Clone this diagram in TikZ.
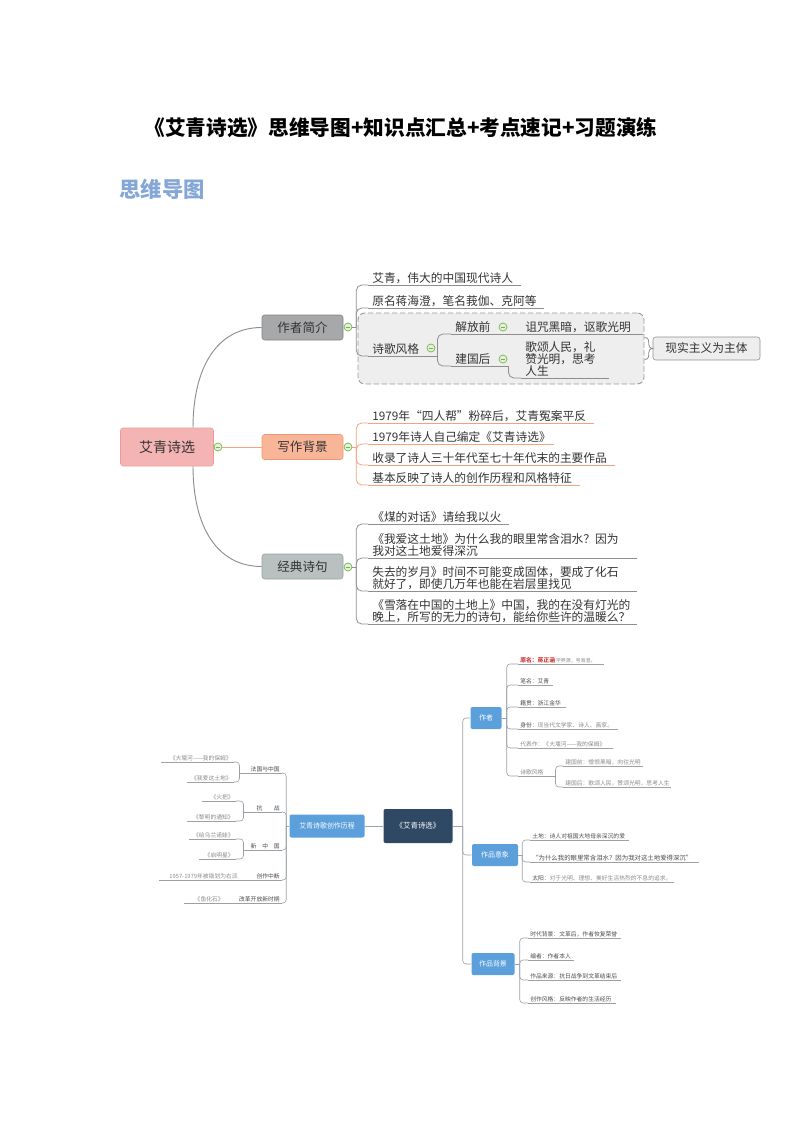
\documentclass[tikz,border=0pt]{standalone}
\usepackage{fontspec}
\setmainfont{Noto Sans CJK SC}
\usetikzlibrary{calc,fit}

\definecolor{txt}{HTML}{333333}
\definecolor{txtb}{HTML}{4A4A4A}
\definecolor{lgt}{HTML}{8A8A8A}
\definecolor{redt}{HTML}{D23A3A}
\definecolor{headc}{HTML}{84A7D7}
\definecolor{grayline}{HTML}{8E8E8E}
\definecolor{orgline}{HTML}{F4A27F}
\definecolor{rootfill}{HTML}{F4B4B4}
\definecolor{rootdraw}{HTML}{E99B9B}
\definecolor{tafill}{HTML}{A6A8AA}
\definecolor{tadraw}{HTML}{808284}
\definecolor{tbfill}{HTML}{F9B598}
\definecolor{tbdraw}{HTML}{EF9873}
\definecolor{tcfill}{HTML}{B8C0C0}
\definecolor{tcdraw}{HTML}{98A1A1}
\definecolor{mkline}{HTML}{74B04C}
\definecolor{mkfill}{HTML}{E3F2D6}
\definecolor{bdfill}{HTML}{EEEEEE}
\definecolor{bddraw}{HTML}{999999}
\definecolor{navy}{HTML}{2F4863}
\definecolor{blueb}{HTML}{5B9FDB}
\definecolor{linec}{HTML}{9AA2A8}

\newcommand\fstitle{\fontsize{15.5}{18}\selectfont\bfseries}
\newcommand\fshead{\fontsize{16}{18}\selectfont\bfseries}
\newcommand\fsroot{\fontsize{10.5}{12}\selectfont}
\newcommand\fsbox{\fontsize{9.4}{11}\selectfont}
\newcommand\fsleaf{\fontsize{8.8}{9}\selectfont}
\newcommand\fsnavy{\fontsize{5.6}{6.5}\selectfont}
\newcommand\fsblue{\fontsize{5.2}{6}\selectfont}
\newcommand\fstiny{\fontsize{4.35}{5}\selectfont}

\begin{document}
\begin{tikzpicture}[x=0.75pt,y=0.75pt,
    topic/.style={rounded corners=2pt, minimum width=60.75pt, minimum height=18.75pt, inner sep=0pt, font=\fsbox, text=txt},
    mk/.style={circle, draw=mkline, fill=mkfill, line width=0.5pt, minimum size=6pt, inner sep=0pt,
        path picture={\draw[mkline, line width=0.6pt] ([xshift=-1.7pt]path picture bounding box.center) -- ([xshift=1.7pt]path picture bounding box.center);}},
    uline/.style={draw=grayline, line width=0.6pt},
    leaf/.style={anchor=south west, align=left, inner xsep=3pt, inner ysep=1pt, text width=#1, font=\fsleaf, text=txt,
        append after command={\pgfextra{\let\leafnode=\tikzlastnode} (\leafnode.south west) edge[uline] (\leafnode.south east)}},
    link/.style={draw=grayline, line width=0.7pt},
    br/.style={draw=grayline, line width=0.6pt, rounded corners=4pt},
    bluebox/.style={fill=blueb, text=white, rounded corners=1.5pt, inner sep=0pt, minimum height=16.5pt, font=\fsblue},
    sleaf/.style={leaf=#1, inner xsep=1.5pt, inner ysep=0.6pt, font=\fstiny, text=txtb},
    rleaf/.style={sleaf=#1, anchor=south east, align=right},
    br2/.style={draw=linec, line width=0.45pt, rounded corners=2.5pt}]

\useasboundingbox (0,0) rectangle (794,-1123);

\node[font=\fstitle, text=black] (title) at (401,-128) {《艾青诗选》思维导图+知识点汇总+考点速记+习题演练};
\node[font=\fshead, text=headc] (head) at (162,-189) {思维导图};

% first map
\node[topic, fill=rootfill, draw=rootdraw, minimum width=69.75pt, minimum height=28.5pt, font=\fsroot] (root) at (167,-447) {艾青诗选};
\node[topic, fill=tafill, draw=tadraw] (t1) at (302.5,-327.5) {作者简介};
\node[topic, fill=tbfill, draw=tbdraw] (t2) at (302.5,-447) {写作背景};
\node[topic, fill=tcfill, draw=tcdraw] (t3) at (302.5,-566.5) {经典诗句};

\draw[link] ($(root.north)+(26,0)$) .. controls +(0,60) and +(-45,0) .. (t1.west);
\draw[link] ($(root.south)+(26,0)$) .. controls +(0,-60) and +(-45,0) .. (t3.west);

\node[mk] (m1) at (218,-447) {};
\draw[link, draw=orgline] (m1) -- (t2);
\node[mk] (m2) at (348,-327) {};
\node[mk] (m3) at (348,-447) {};
\node[mk] (m4) at (348,-567) {};

\node[draw=bddraw, fill=bdfill, dash pattern=on 4pt off 2pt, rounded corners=5pt, line width=0.7pt, fit={(358,-313) (644,-384)}, inner sep=0pt] (bd) {};
\node[topic, fill=bdfill, draw=grayline, minimum width=80.25pt, minimum height=17.25pt, font=\fsleaf] (sm) at (706.5,-348.5) {现实主义为主体};
\draw[br, rounded corners=0pt] ($(sm.west)+(-8,11)$) .. controls +(4,0) and +(0,4) .. ($(sm.west)+(-4,4)$) .. controls +(0,-3) and +(-2,0) .. (sm.west) .. controls +(-2,0) and +(0,3) .. ($(sm.west)+(-4,-4)$) .. controls +(0,-4) and +(4,0) .. ($(sm.west)+(-8,-11)$);

\node[leaf=108pt] (a1) at (368,-285) {艾青，伟大的中国现代诗人};
\node[leaf=125.25pt] (a2) at (368,-308) {原名蒋海澄，笔名莪伽、克阿等};
\node[leaf=45.75pt] (a3) at (368,-356) {诗歌风格};
\node[mk] (m5) at (431,-348) {};
\node[leaf=36.75pt] (b1) at (451,-334) {解放前};
\node[mk] (m6) at (503,-327) {};
\node[leaf=84.75pt] (c1) at (521,-334) {诅咒黑暗，讴歌光明};
\node[leaf=36.75pt] (b2) at (451,-366) {建国后};
\node[mk] (m7) at (503,-359) {};
\node[leaf=59.25pt] (c2) at (521,-378) {歌颂人民，礼\\赞光明，思考\\人生};

\coordinate (j2) at ($(m2.east)+(4,0)$);
\draw[br] (m2.east) -- (j2);
\foreach \n in {a1,a2,a3} \draw[br] (j2) |- (\n.south west);
\foreach \n in {b1,b2} \draw[br] (a3.south east) |- (\n.south west);
\draw[br] (b1.south east) -- (c1.south west);
\draw[br] (b2.south east) |- (c2.south west);

\begin{scope}[uline/.style={draw=orgline, line width=0.6pt}, br/.style={draw=orgline, line width=0.6pt, rounded corners=4pt}]
\node[leaf=162.75pt] (d1) at (368,-423) {1979年“四人帮”粉碎后，艾青冤案平反};
\node[leaf=132.75pt] (d2) at (368,-444) {1979年诗人自己编定《艾青诗选》};
\node[leaf=178.5pt] (d3) at (368,-465) {收录了诗人三十年代至七十年代末的主要作品};
\node[leaf=152.25pt] (d4) at (368,-485) {基本反映了诗人的创作历程和风格特征};
\coordinate (j3) at ($(m3.east)+(4,0)$);
\draw[br] (m3.east) -- (j3);
\foreach \n in {d1,d2,d3,d4} \draw[br] (j3) |- (\n.south west);
\end{scope}

\node[leaf=99pt] (e1) at (368,-524) {《煤的对话》请给我以火};
\node[leaf=195pt] (e2) at (368,-558) {《我爱这土地》为什么我的眼里常含泪水？因为\\我对这土地爱得深沉};
\node[leaf=195pt] (e3) at (368,-591) {失去的岁月》时间不可能变成固体，要成了化石\\就好了，即使几万年也能在岩层里找见};
\node[leaf=195pt] (e4) at (368,-624) {《雪落在中国的土地上》中国，我的在没有灯光的\\晚上，所写的无力的诗句，能给你些许的温暖么？};
\coordinate (j4) at ($(m4.east)+(4,0)$);
\draw[br] (m4.east) -- (j4);
\foreach \n in {e1,e2,e3,e4} \draw[br] (j4) |- (\n.south west);

% second map
\begin{scope}[uline/.style={draw=linec, line width=0.45pt}]
\node[fill=navy, text=white, rounded corners=1.5pt, minimum width=51.75pt, minimum height=25.5pt, inner sep=0pt, font=\fsnavy] (cN) at (418,-826) {《艾青诗选》};
\node[bluebox, minimum width=56.25pt, minimum height=17.25pt] (cp) at (327,-826) {艾青诗歌创作历程};
\node[bluebox, minimum width=23.25pt] (au) at (486,-718) {作者};
\node[bluebox, minimum width=34.5pt] (im) at (495,-855) {作品意象};
\node[bluebox, minimum width=32.25pt] (bg) at (493,-964) {作品背景};

\draw[br2] (cp.east) -- (cN.west);
\coordinate (jR) at ($(cN.east)+(10,0)$);
\draw[br2] (cN.east) -- (jR);
\foreach \n in {au,im,bg} \draw[br2] (jR) |- (\n.west);

\node[rleaf=28.5pt] (L1) at (282,-773) {法国与中国};
\node[rleaf=51pt, text=lgt] (L1a) at (234,-762) {《大堰河——我的保姆》};
\node[rleaf=31.5pt, text=lgt] (L1b) at (234,-782) {《我爱这土地》};
\node[rleaf=25.5pt] (L2) at (282,-812) {抗　　战};
\node[rleaf=21.75pt, text=lgt] (L2a) at (236,-801) {《火把》};
\node[rleaf=33pt, text=lgt] (L2b) at (236,-821) {《黎明的通知》};
\node[rleaf=25.5pt] (L3) at (282,-850) {新　中　国};
\node[rleaf=31.5pt, text=lgt] (L3a) at (236,-839) {《给乌兰诺娃》};
\node[rleaf=24pt, text=lgt] (L3b) at (236,-859) {《启明星》};
\node[rleaf=24pt] (L4) at (282,-880) {创作中断};
\node[rleaf=57pt, text=lgt] (L4a) at (240,-880) {1957-1979年被错划为右派};
\node[rleaf=34.5pt] (L5) at (282,-903) {改革开放新时期};
\node[rleaf=27.75pt, text=lgt] (L5a) at (226,-903) {《鱼化石》};

\coordinate (jL) at ($(cp.west)+(-3,0)$);
\draw[br2] (cp.west) -- (jL);
\foreach \n in {L1,L2,L3,L4,L5} \draw[br2] (jL) |- (\n.south east);
\foreach \p/\c in {L1/L1a,L1/L1b,L2/L2a,L2/L2b,L3/L3a,L3/L3b} \draw[br2] (\p.south west) |- (\c.south east);
\foreach \p/\c in {L4/L4a,L5/L5a} \draw[br2] (\p.south west) -- (\c.south east);

\node[sleaf=60.75pt] (r1) at (518,-664) {{\color{redt}\bfseries 原名：蒋正涵}\,{\color{lgt}\fontsize{3.7}{4}\selectfont 字养源，号海澄。}};
\node[sleaf=22.5pt] (r2) at (518,-685) {笔名：艾青};
\node[sleaf=32.25pt] (r3) at (518,-707) {籍贯：浙江金华};
\node[sleaf=71.25pt] (r4) at (518,-729) {身份：{\color{lgt}现当代文学家、诗人、画家。}};
\node[sleaf=67.5pt, text=lgt] (r5) at (518,-748) {代表作：《大堰河——我的保姆》};
\node[sleaf=24.75pt, text=lgt] (r6) at (518,-776) {诗歌风格};
\node[sleaf=56.25pt, text=lgt] (r6a) at (563,-766) {建国前：憎恨黑暗，向往光明};
\node[sleaf=77.25pt, text=lgt] (r6b) at (563,-787) {建国后：歌颂人民，赞颂光明，思考人生};
\coordinate (ja) at ($(au.east)+(5,0)$);
\draw[br2] (au.east) -- (ja);
\foreach \n in {r1,r2,r3,r4,r5,r6} \draw[br2] (ja) |- (\n.south west);
\foreach \n in {r6a,r6b} \draw[br2] (r6.south east) |- (\n.south west);

\node[sleaf=70.5pt] (s1) at (530,-840) {土地：诗人对祖国大地母亲深沉的爱};
\node[sleaf=123pt, font=\fontsize{4.8}{5.5}\selectfont] (s2) at (530,-862) {“为什么我的眼里常含泪水？因为我对这土地爱得深沉”};
\node[sleaf=104.25pt] (s3) at (530,-882) {太阳：{\color{lgt}对于光明、理想、美好生活热烈的不息的追求。}};
\coordinate (ji) at ($(im.east)+(4,0)$);
\draw[br2] (im.east) -- (ji);
\foreach \n in {s1,s2,s3} \draw[br2] (ji) |- (\n.south west);

\node[sleaf=66pt] (u1) at (528,-938) {时代背景：文革后，作者恢复荣誉};
\node[sleaf=30.75pt] (u2) at (528,-960) {编者：作者本人};
\node[sleaf=66pt] (u3) at (528,-980) {作品来源：抗日战争到文革结束后};
\node[sleaf=62.25pt] (u4) at (528,-1003) {创作风格：反映作者的生活经历};
\coordinate (jb) at ($(bg.east)+(5,0)$);
\draw[br2] (bg.east) -- (jb);
\foreach \n in {u1,u2,u3,u4} \draw[br2] (jb) |- (\n.south west);
\end{scope}
\end{tikzpicture}
\end{document}
